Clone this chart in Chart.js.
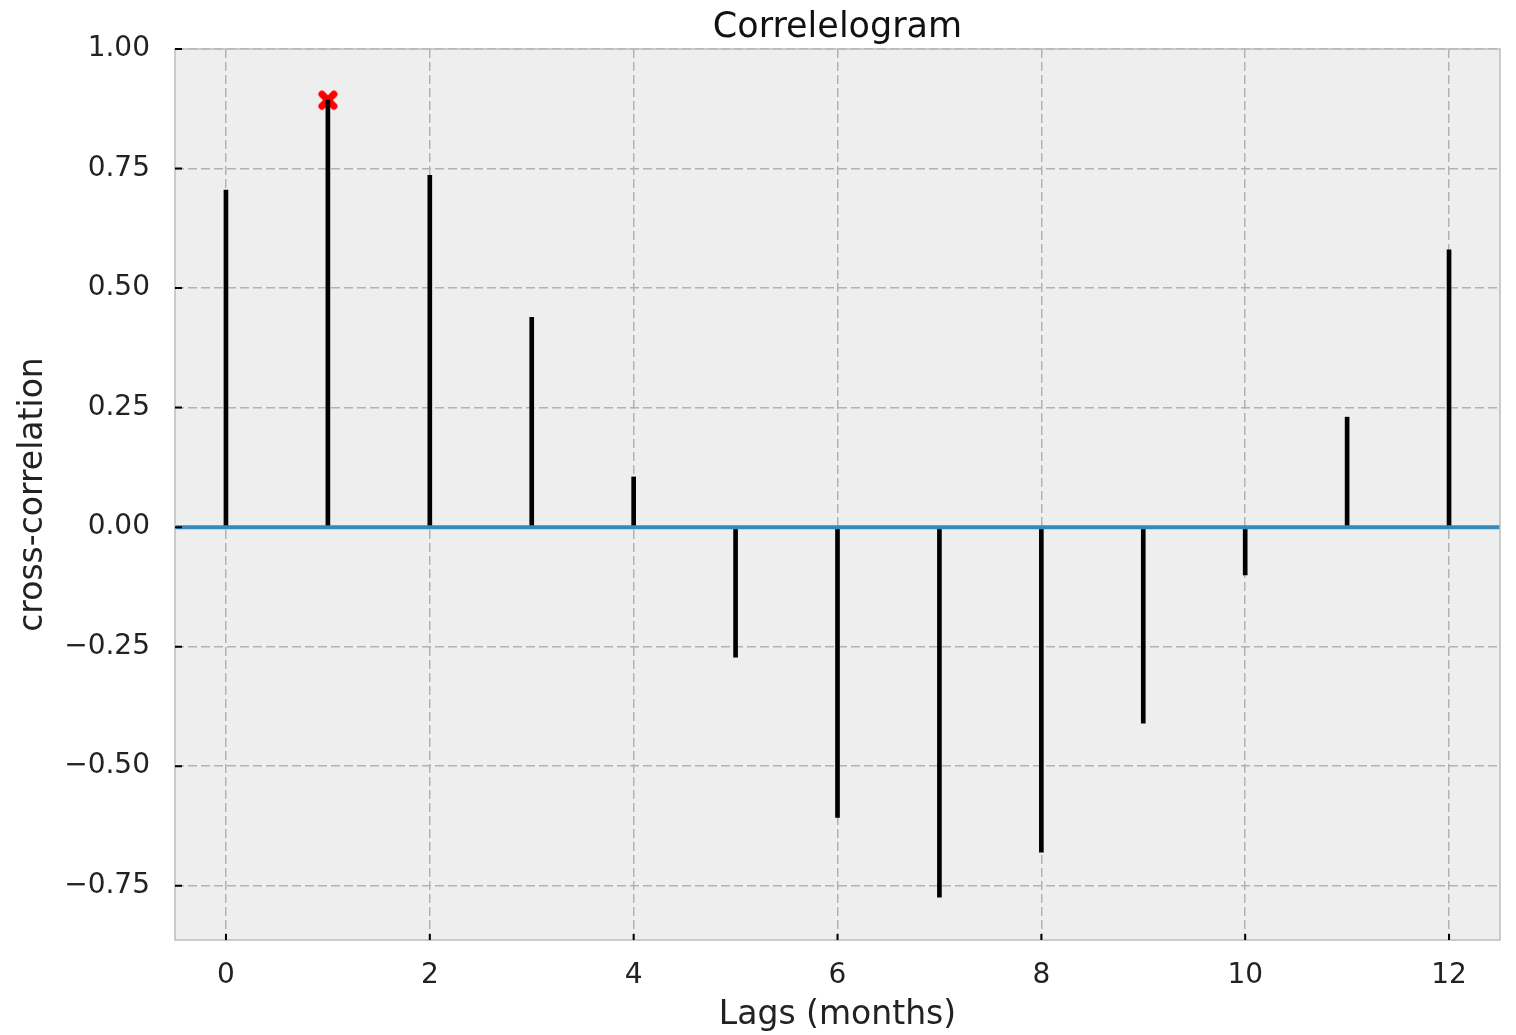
<!DOCTYPE html>
<html>
<head>
<meta charset="utf-8">
<title>Correlelogram</title>
<script src="https://cdn.jsdelivr.net/npm/chart.js@4.4.1/dist/chart.umd.min.js"></script>
<style>
  html, body { margin: 0; padding: 0; background: #ffffff; }
  canvas { display: block; }
</style>
</head>
<body>
<canvas id="ccfChart" width="1516" height="1035"></canvas>
<script>
// lags in months and the cross-correlation at each lag
var lags = [0, 1, 2, 3, 4, 5, 6, 7, 8, 9, 10, 11, 12];
var ccf = [0.705, 0.893, 0.736, 0.439, 0.105, -0.272, -0.607, -0.774, -0.68, -0.41, -0.10, 0.23, 0.58];

var xRange = [-0.5, 12.5];
var yRange = [-0.8635, 1.0];

// strongest lag gets the red marker
var best = 0;
for (var i = 1; i < ccf.length; i++) {
  if (Math.abs(ccf[i]) > Math.abs(ccf[best])) best = i;
}

var stems = lags.map(function(l, i) { return {x: l, y: ccf[i]}; });
var peak = [{x: lags[best], y: ccf[best]}];

// filled X marker like matplotlib's 'X'
var marker = document.createElement('canvas');
marker.width = 22;
marker.height = 22;
var mctx = marker.getContext('2d');
mctx.strokeStyle = '#ff0000';
mctx.lineWidth = 7;
mctx.lineCap = 'round';
mctx.beginPath();
mctx.moveTo(5, 5); mctx.lineTo(17, 17);
mctx.moveTo(17, 5); mctx.lineTo(5, 17);
mctx.stroke();

Chart.defaults.font.family = "'DejaVu Sans', sans-serif";
Chart.defaults.color = '#222222';

function fmtY(v) {
  var s = Math.abs(v).toFixed(2);
  return v < -1e-9 ? '\u2212' + s : s;
}

// background, frame, inward ticks and the blue zero line
var axesDecor = {
  id: 'axesDecor',
  beforeDraw: function(chart) {
    var a = chart.chartArea, ctx = chart.ctx;
    ctx.save();
    ctx.fillStyle = '#eeeeee';
    ctx.fillRect(a.left, a.top, a.right - a.left, a.bottom - a.top);
    ctx.restore();
  },
  afterDatasetsDraw: function(chart) {
    var a = chart.chartArea, ctx = chart.ctx;
    var xs = chart.scales.x, ys = chart.scales.y;
    ctx.save();
    var y0 = ys.getPixelForValue(0);
    ctx.strokeStyle = '#348abd';
    ctx.lineWidth = 4;
    ctx.beginPath();
    ctx.moveTo(a.left, y0);
    ctx.lineTo(a.right, y0);
    ctx.stroke();

    ctx.strokeStyle = '#bcbcbc';
    ctx.lineWidth = 1.5;
    ctx.strokeRect(a.left, a.top, a.right - a.left, a.bottom - a.top);

    ctx.strokeStyle = '#000000';
    ctx.lineWidth = 2;
    ctx.beginPath();
    ys.ticks.forEach(function(t) {
      var p = ys.getPixelForValue(t.value);
      ctx.moveTo(a.left, p);
      ctx.lineTo(a.left + 7, p);
    });
    xs.ticks.forEach(function(t) {
      var p = xs.getPixelForValue(t.value);
      ctx.moveTo(p, a.bottom);
      ctx.lineTo(p, a.bottom - 6);
    });
    ctx.stroke();
    ctx.restore();
  }
};

var ctx = document.getElementById('ccfChart');
var ccfChart = new Chart(ctx, {
  type: 'bar',
  data: {
    datasets: [{
      type: 'bar',
      data: stems,
      backgroundColor: '#000000',
      borderWidth: 0,
      barThickness: 4,
      order: 0
    }, {
      type: 'scatter',
      data: peak,
      pointStyle: marker,
      pointRadius: 11,
      order: 1
    }]
  },
  plugins: [axesDecor],
  options: {
    responsive: false,
    animation: false,
    layout: { padding: { left: 0, right: 16, top: 0, bottom: 0 } },
    plugins: {
      legend: { display: false },
      tooltip: { enabled: false },
      title: {
        display: true,
        fullSize: false,
        text: 'Correlelogram',
        color: '#111111',
        font: { size: 35, weight: 'normal' },
        padding: { top: 7, bottom: 0 }
      }
    },
    scales: {
      x: {
        type: 'linear',
        min: xRange[0],
        max: xRange[1],
        offset: false,
        border: { display: false },
        grid: {
          offset: false,
          drawTicks: false,
          color: '#b2b2b2',
          lineWidth: 1.5
        },
        ticks: {
          stepSize: 2,
          includeBounds: false,
          padding: 19,
          font: { size: 28 },
          callback: function(v) { return String(v); }
        },
        title: {
          display: true,
          text: 'Lags (months)',
          font: { size: 33 },
          padding: { top: 0, bottom: 0 }
        },
        afterFit: function(scale) { scale.height = 95; }
      },
      y: {
        min: yRange[0],
        max: yRange[1],
        border: { display: false },
        grid: {
          drawTicks: false,
          color: '#b2b2b2',
          lineWidth: 1.5
        },
        ticks: {
          stepSize: 0.25,
          includeBounds: false,
          padding: 25,
          font: { size: 28 },
          callback: fmtY
        },
        title: {
          display: true,
          text: 'cross-correlation',
          font: { size: 33 },
          padding: { top: 14, bottom: 0 }
        },
        afterFit: function(scale) { scale.width = 175; }
      }
    }
  }
});

// dashed grid, set on the scales after construction
['x', 'y'].forEach(function(id) {
  ccfChart.options.scales[id].border.dash = [9, 4];
});
ccfChart.update();
</script>
</body>
</html>
